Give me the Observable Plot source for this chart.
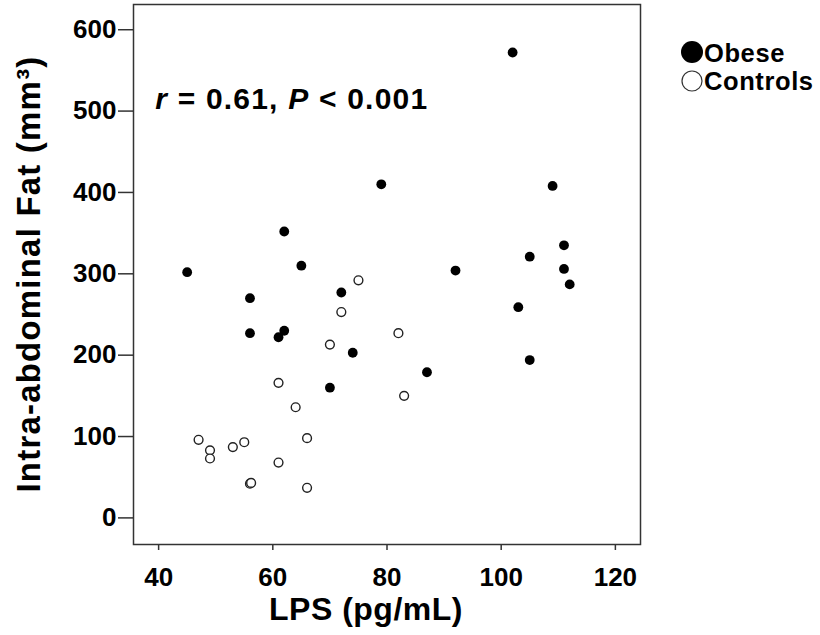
<!DOCTYPE html>
<html>
<head>
<meta charset="utf-8">
<script src="https://cdn.jsdelivr.net/npm/d3@7"></script>
<script src="https://cdn.jsdelivr.net/npm/@observablehq/plot@0.6"></script>
<style>
  html, body { margin: 0; padding: 0; background: #fff; }
  #wrap { position: relative; width: 820px; height: 635px; overflow: hidden;
          font-family: "Liberation Sans", Arial, sans-serif; font-weight: bold; }
  #chart { position: absolute; left: 0; top: 0; }
  #legend { position: absolute; left: 668px; top: 30px; }
</style>
</head>
<body>
<div id="wrap"><div id="chart"></div><div id="legend"></div></div>
<script>
// ---- data ----
const obeseLPS = [102, 79, 109, 62, 45, 65, 92, 105, 111, 111, 112, 56, 72, 103, 56, 62, 61, 74, 105, 87, 70];
const obeseFat = [572, 410, 408, 352, 302, 310, 304, 321, 335, 306, 287, 270, 277, 259, 227, 230, 222, 203, 194, 179, 160];
const controlLPS = [75, 72, 82, 70, 61, 83, 64, 47, 49, 49, 53, 55, 66, 61, 56, 56.2, 66];
const controlFat = [292, 253, 227, 213, 166, 150, 136, 96, 83, 73, 87, 93, 98, 68, 42, 43, 37];
const xTicks = [40, 60, 80, 100, 120];
const yTicks = [0, 100, 200, 300, 400, 500, 600];
const xTitle = "LPS (pg/mL)";
const yTitle = "Intra-abdominal Fat (mm³)";
const groups = ["Obese", "Controls"];
const statParts = [["r", "italic"], [" = 0.61, ", "normal"], ["P", "italic"], [" < 0.001", "normal"]];

const obese = obeseLPS.map((v, i) => ({lps: v, fat: obeseFat[i], group: groups[0]}));
const controls = controlLPS.map((v, i) => ({lps: v, fat: controlFat[i], group: groups[1]}));

const FONT = '"Liberation Sans", Arial, sans-serif';

const W = 660, H = 635, ML = 133, MR = 20, MT = 4, MB = 91;

const chart = Plot.plot({
  width: W,
  height: H,
  marginLeft: ML,
  marginRight: MR,
  marginTop: MT,
  marginBottom: MB,
  style: {fontFamily: FONT, fontWeight: "bold", fontSize: "26px", color: "#000", background: "#fff", overflow: "visible"},
  x: {domain: [35.6, 124.4]},
  y: {domain: [-32.7, 631]},
  marks: [
    Plot.axisX({ticks: xTicks, tickSize: 6, tickPadding: 17, label: null, fontSize: 26, stroke: "#333", strokeWidth: 1.5, fill: "#000"}),
    Plot.axisY({ticks: yTicks, tickSize: 15, tickPadding: 2, label: null, fontSize: 26, stroke: "#333", strokeWidth: 1.5, fill: "#000"}),
    Plot.frame({stroke: "#333", strokeWidth: 1.5}),
    Plot.dot(controls, {x: "lps", y: "fat", r: 4.4, fill: "#fff", stroke: "#222", strokeWidth: 1.4}),
    Plot.dot(obese, {x: "lps", y: "fat", r: 4.9, fill: "#000", stroke: "none"})
  ]
});
document.getElementById("chart").appendChild(chart);

// titles and annotation, positioned through the chart's own scales
const sx = chart.scale("x"), sy = chart.scale("y");
const svg = d3.select(chart);

const ann = svg.append("text")
  .attr("x", sx.apply(39.5)).attr("y", sy.apply(502))
  .attr("text-anchor", "start")
  .attr("font-family", FONT).attr("font-weight", "bold")
  .attr("font-size", 30).attr("letter-spacing", 1.2).attr("fill", "#000");
statParts.forEach(([s, st]) => ann.append("tspan").attr("font-style", st).text(s));

svg.append("text").attr("x", 366).attr("y", 620)
  .attr("text-anchor", "middle")
  .attr("font-family", FONT).attr("font-weight", "bold")
  .attr("font-size", 32).attr("letter-spacing", 0.5).attr("fill", "#000")
  .text(xTitle);

const cy = (MT + H - MB) / 2;
svg.append("text").attr("transform", `translate(40,${cy}) rotate(-90)`)
  .attr("text-anchor", "middle")
  .attr("font-family", FONT).attr("font-weight", "bold")
  .attr("font-size", 33).attr("letter-spacing", 1.2).attr("fill", "#000")
  .text(yTitle);

// legend
const leg = d3.select("#legend").append("svg").attr("width", 152).attr("height", 72)
  .attr("font-family", FONT).attr("font-weight", "bold").attr("font-size", 25.5).attr("letter-spacing", 0.6);
leg.append("circle").attr("cx", 24).attr("cy", 22).attr("r", 11).attr("fill", "#000");
leg.append("text").attr("x", 36).attr("y", 32).text(groups[0]);
leg.append("circle").attr("cx", 24).attr("cy", 51).attr("r", 10).attr("fill", "#fff").attr("stroke", "#333").attr("stroke-width", 1.2);
leg.append("text").attr("x", 36).attr("y", 60).text(groups[1]);
</script>
</body>
</html>
